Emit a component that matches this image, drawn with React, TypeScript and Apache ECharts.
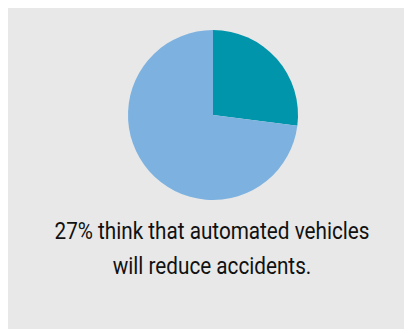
import React, { useEffect, useRef } from "react";
import * as echarts from "echarts";

const categories = ["Will reduce accidents", "Other"];
const values = [27, 73];
const colors = ["#0095aa", "#7db2e0"];
const captionLines = ["27% think that automated vehicles", "will reduce accidents."];

export default function App() {
  const ref = useRef<HTMLDivElement>(null);
  useEffect(() => {
    if (!ref.current) return;
    const chart = echarts.init(ref.current, null, { renderer: "svg" });
    chart.setOption({
      animation: false,
      backgroundColor: "#e8e8e8",
      graphic: captionLines.map((line, i) => ({
        type: "text",
        x: 204,
        y: 223 + i * 35,
        scaleX: 0.9,
        style: {
          text: line,
          fontFamily: "Roboto, sans-serif",
          fontSize: 23,
          fontWeight: "normal",
          fill: "#111111",
          textAlign: "center",
          textVerticalAlign: "middle",
        },
      })),
      series: [
        {
          type: "pie",
          center: [205, 107],
          radius: 85,
          startAngle: 90,
          clockwise: true,
          label: { show: false },
          labelLine: { show: false },
          emphasis: { disabled: true },
          itemStyle: { borderWidth: 0 },
          data: categories.map((c, i) => ({
            name: c,
            value: values[i],
            itemStyle: { color: colors[i] },
          })),
        },
      ],
    });
    return () => chart.dispose();
  }, []);
  return <div ref={ref} style={{ width: 404, height: 321 }} />;
}
